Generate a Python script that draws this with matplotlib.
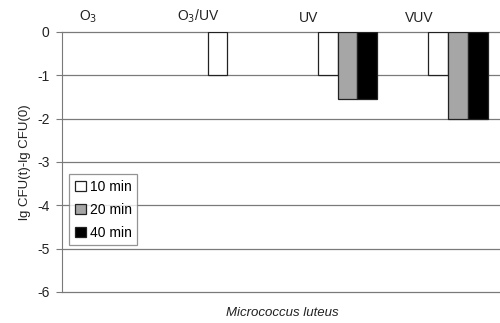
import numpy as np
import matplotlib.pyplot as plt
from matplotlib.patches import Patch

plt.rcParams['font.family'] = ['Liberation Sans', 'DejaVu Sans']

treatments = ['O$_3$', 'O$_3$/UV', 'UV', 'VUV']
times = ['10 min', '20 min', '40 min']
val_10 = [0, -1.0, -1.0, -1.0]
val_20 = [0, 0, -1.55, -2.0]
val_40 = [0, 0, -1.55, -2.0]
colors = ['white', '#a6a6a6', 'black']

fig = plt.figure(figsize=(5, 3.23), dpi=100)
ax = fig.add_axes([0.124, 0.096, 0.882, 0.805])

x = np.arange(len(treatments))
w = 0.18
shift = 0.09
for j, vals in enumerate([val_10, val_20, val_40]):
    b = ax.bar(x + shift + (j - 1) * w, vals, width=w, color=colors[j],
               edgecolor='#222222', linewidth=0.9, zorder=3)
    # no visible outline for empty (zero) bars
    for rect, v in zip(b, vals):
        if v == 0:
            rect.set_linewidth(0)

ax.set_xlim(-0.5, 3.5)
ax.set_ylim(-6, 0)
ax.set_yticks(range(-6, 1))
ax.set_yticklabels([str(v) for v in range(-6, 1)])
ax.yaxis.grid(True, color='#7a7a7a', linewidth=0.9)
for gl in ax.get_ygridlines():
    gl.set_clip_on(False)
ax.set_axisbelow(True)
ax.set_xticks([])
for s in ['top', 'right', 'bottom']:
    ax.spines[s].set_visible(False)
ax.spines['left'].set_color('#7a7a7a')
ax.tick_params(axis='y', length=4, color='#7a7a7a', labelsize=10,
               labelcolor='#222222', pad=5)

for i, t in enumerate(treatments):
    ax.text(i - 0.26, 0.15, t, ha='center', va='bottom', fontsize=10,
            color='#222222')

ax.set_ylabel('lg CFU(t)-lg CFU(0)', fontsize=9.5, color='#222222', labelpad=4)
ax.set_xlabel('Micrococcus luteus', fontsize=9.5, style='italic',
              color='#222222', labelpad=11)

handles = [Patch(facecolor=c, edgecolor='#222222', linewidth=0.9, label=t)
           for c, t in zip(colors, times)]
leg = ax.legend(handles=handles, loc='upper left', bbox_to_anchor=(0.0, 0.48),
                fontsize=10, frameon=True, fancybox=False, edgecolor='#7a7a7a',
                handlelength=0.8, handleheight=0.8, handletextpad=0.3,
                borderpad=0.4, labelspacing=0.65)
leg.get_frame().set_linewidth(0.9)

fig.savefig('out.png', dpi=100)
